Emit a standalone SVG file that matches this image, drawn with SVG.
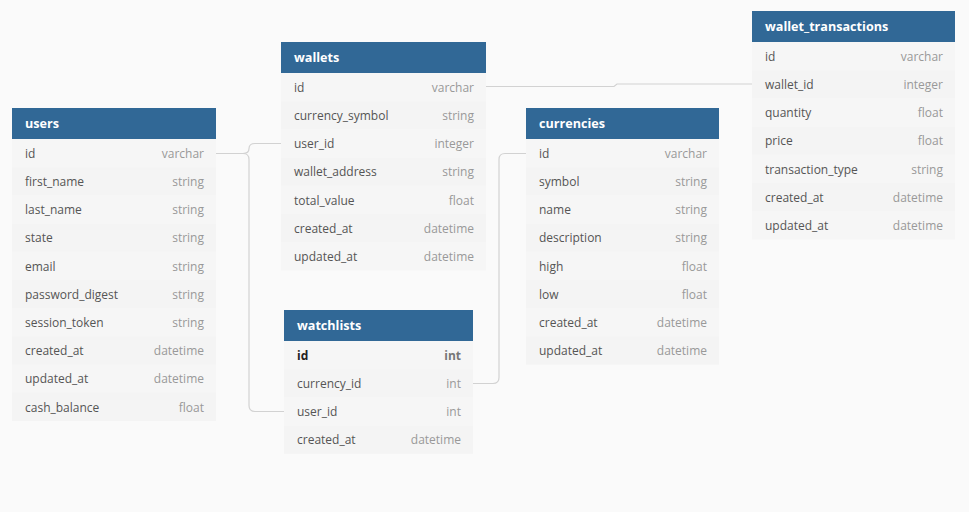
<svg xmlns="http://www.w3.org/2000/svg" width="969" height="512" viewBox="0 0 969 512">
<style>
.bg{fill:#fafafa}
.hd{fill:#316896}
.ra{fill:#f6f6f6}
.rb{fill:#f4f4f4}
.ht{font-family:"Open Sans","Liberation Sans",sans-serif;font-size:12.6px;font-weight:bold;fill:#ffffff}
.n{font-family:"Open Sans","Liberation Sans",sans-serif;font-size:12px;fill:#555555}
.t{font-family:"Open Sans","Liberation Sans",sans-serif;font-size:12px;fill:#999999;text-anchor:end}
.pk{fill:#222222;font-weight:bold}
.pkt{fill:#777777;font-weight:bold}
.c{fill:none;stroke:#d2d2d2;stroke-width:1.2}
</style>
<rect class="bg" x="0" y="0" width="969" height="512"/>

<g id="connectors">
<path class="c" d="M216,153.5 H243 Q249,153.5 249,148.5 Q249,143.5 255,143.5 H281"/>
<path class="c" d="M216,153.5 H243 Q249,153.5 249,159.5 V405.5 Q249,411.5 255,411.5 H284"/>
<path class="c" d="M486,86.5 H614 L617,84 H752"/>
<path class="c" d="M473,383.5 H493 Q499,383.5 499,377.5 V159.5 Q499,153.5 505,153.5 H526"/>
</g>

<g id="users" transform="translate(12,108)">
<rect class="hd" x="0" y="0" width="204" height="31"/>
<text class="ht" x="13" y="20">users</text>
<rect class="ra" x="0" y="31" width="204" height="28.2"/>
<rect class="rb" x="0" y="59.2" width="204" height="28.2"/>
<rect class="ra" x="0" y="87.4" width="204" height="28.2"/>
<rect class="rb" x="0" y="115.6" width="204" height="28.2"/>
<rect class="ra" x="0" y="143.8" width="204" height="28.2"/>
<rect class="rb" x="0" y="172" width="204" height="28.2"/>
<rect class="ra" x="0" y="200.2" width="204" height="28.2"/>
<rect class="rb" x="0" y="228.4" width="204" height="28.2"/>
<rect class="ra" x="0" y="256.6" width="204" height="28.2"/>
<rect class="rb" x="0" y="284.8" width="204" height="28.2"/>
<text class="n" x="13" y="49.8">id</text><text class="t" x="192" y="49.8">varchar</text>
<text class="n" x="13" y="78">first_name</text><text class="t" x="192" y="78">string</text>
<text class="n" x="13" y="106.2">last_name</text><text class="t" x="192" y="106.2">string</text>
<text class="n" x="13" y="134.4">state</text><text class="t" x="192" y="134.4">string</text>
<text class="n" x="13" y="162.6">email</text><text class="t" x="192" y="162.6">string</text>
<text class="n" x="13" y="190.8">password_digest</text><text class="t" x="192" y="190.8">string</text>
<text class="n" x="13" y="219">session_token</text><text class="t" x="192" y="219">string</text>
<text class="n" x="13" y="247.2">created_at</text><text class="t" x="192" y="247.2">datetime</text>
<text class="n" x="13" y="275.4">updated_at</text><text class="t" x="192" y="275.4">datetime</text>
<text class="n" x="13" y="303.6">cash_balance</text><text class="t" x="192" y="303.6">float</text>
</g>

<g id="wallets" transform="translate(281,42)">
<rect class="hd" x="0" y="0" width="205" height="31"/>
<text class="ht" x="13" y="20">wallets</text>
<rect class="ra" x="0" y="31" width="205" height="28.2"/>
<rect class="rb" x="0" y="59.2" width="205" height="28.2"/>
<rect class="ra" x="0" y="87.4" width="205" height="28.2"/>
<rect class="rb" x="0" y="115.6" width="205" height="28.2"/>
<rect class="ra" x="0" y="143.8" width="205" height="28.2"/>
<rect class="rb" x="0" y="172" width="205" height="28.2"/>
<rect class="ra" x="0" y="200.2" width="205" height="28.2"/>
<text class="n" x="13" y="49.8">id</text><text class="t" x="193" y="49.8">varchar</text>
<text class="n" x="13" y="78">currency_symbol</text><text class="t" x="193" y="78">string</text>
<text class="n" x="13" y="106.2">user_id</text><text class="t" x="193" y="106.2">integer</text>
<text class="n" x="13" y="134.4">wallet_address</text><text class="t" x="193" y="134.4">string</text>
<text class="n" x="13" y="162.6">total_value</text><text class="t" x="193" y="162.6">float</text>
<text class="n" x="13" y="190.8">created_at</text><text class="t" x="193" y="190.8">datetime</text>
<text class="n" x="13" y="219">updated_at</text><text class="t" x="193" y="219">datetime</text>
</g>

<g id="watchlists" transform="translate(284,310)">
<rect class="hd" x="0" y="0" width="189" height="31"/>
<text class="ht" x="13" y="20">watchlists</text>
<rect class="ra" x="0" y="31" width="189" height="28.2"/>
<rect class="rb" x="0" y="59.2" width="189" height="28.2"/>
<rect class="ra" x="0" y="87.4" width="189" height="28.2"/>
<rect class="rb" x="0" y="115.6" width="189" height="28.2"/>
<text class="n pk" x="13" y="49.8">id</text><text class="t pkt" x="177" y="49.8">int</text>
<text class="n" x="13" y="78">currency_id</text><text class="t" x="177" y="78">int</text>
<text class="n" x="13" y="106.2">user_id</text><text class="t" x="177" y="106.2">int</text>
<text class="n" x="13" y="134.4">created_at</text><text class="t" x="177" y="134.4">datetime</text>
</g>

<g id="currencies" transform="translate(526,108)">
<rect class="hd" x="0" y="0" width="193" height="31"/>
<text class="ht" x="13" y="20">currencies</text>
<rect class="ra" x="0" y="31" width="193" height="28.2"/>
<rect class="rb" x="0" y="59.2" width="193" height="28.2"/>
<rect class="ra" x="0" y="87.4" width="193" height="28.2"/>
<rect class="rb" x="0" y="115.6" width="193" height="28.2"/>
<rect class="ra" x="0" y="143.8" width="193" height="28.2"/>
<rect class="rb" x="0" y="172" width="193" height="28.2"/>
<rect class="ra" x="0" y="200.2" width="193" height="28.2"/>
<rect class="rb" x="0" y="228.4" width="193" height="28.2"/>
<text class="n" x="13" y="49.8">id</text><text class="t" x="181" y="49.8">varchar</text>
<text class="n" x="13" y="78">symbol</text><text class="t" x="181" y="78">string</text>
<text class="n" x="13" y="106.2">name</text><text class="t" x="181" y="106.2">string</text>
<text class="n" x="13" y="134.4">description</text><text class="t" x="181" y="134.4">string</text>
<text class="n" x="13" y="162.6">high</text><text class="t" x="181" y="162.6">float</text>
<text class="n" x="13" y="190.8">low</text><text class="t" x="181" y="190.8">float</text>
<text class="n" x="13" y="219">created_at</text><text class="t" x="181" y="219">datetime</text>
<text class="n" x="13" y="247.2">updated_at</text><text class="t" x="181" y="247.2">datetime</text>
</g>

<g id="wallet_transactions" transform="translate(752,11)">
<rect class="hd" x="0" y="0" width="203" height="31"/>
<text class="ht" x="13" y="20">wallet_transactions</text>
<rect class="ra" x="0" y="31" width="203" height="28.2"/>
<rect class="rb" x="0" y="59.2" width="203" height="28.2"/>
<rect class="ra" x="0" y="87.4" width="203" height="28.2"/>
<rect class="rb" x="0" y="115.6" width="203" height="28.2"/>
<rect class="ra" x="0" y="143.8" width="203" height="28.2"/>
<rect class="rb" x="0" y="172" width="203" height="28.2"/>
<rect class="ra" x="0" y="200.2" width="203" height="28.2"/>
<text class="n" x="13" y="49.8">id</text><text class="t" x="191" y="49.8">varchar</text>
<text class="n" x="13" y="78">wallet_id</text><text class="t" x="191" y="78">integer</text>
<text class="n" x="13" y="106.2">quantity</text><text class="t" x="191" y="106.2">float</text>
<text class="n" x="13" y="134.4">price</text><text class="t" x="191" y="134.4">float</text>
<text class="n" x="13" y="162.6">transaction_type</text><text class="t" x="191" y="162.6">string</text>
<text class="n" x="13" y="190.8">created_at</text><text class="t" x="191" y="190.8">datetime</text>
<text class="n" x="13" y="219">updated_at</text><text class="t" x="191" y="219">datetime</text>
</g>
</svg>
